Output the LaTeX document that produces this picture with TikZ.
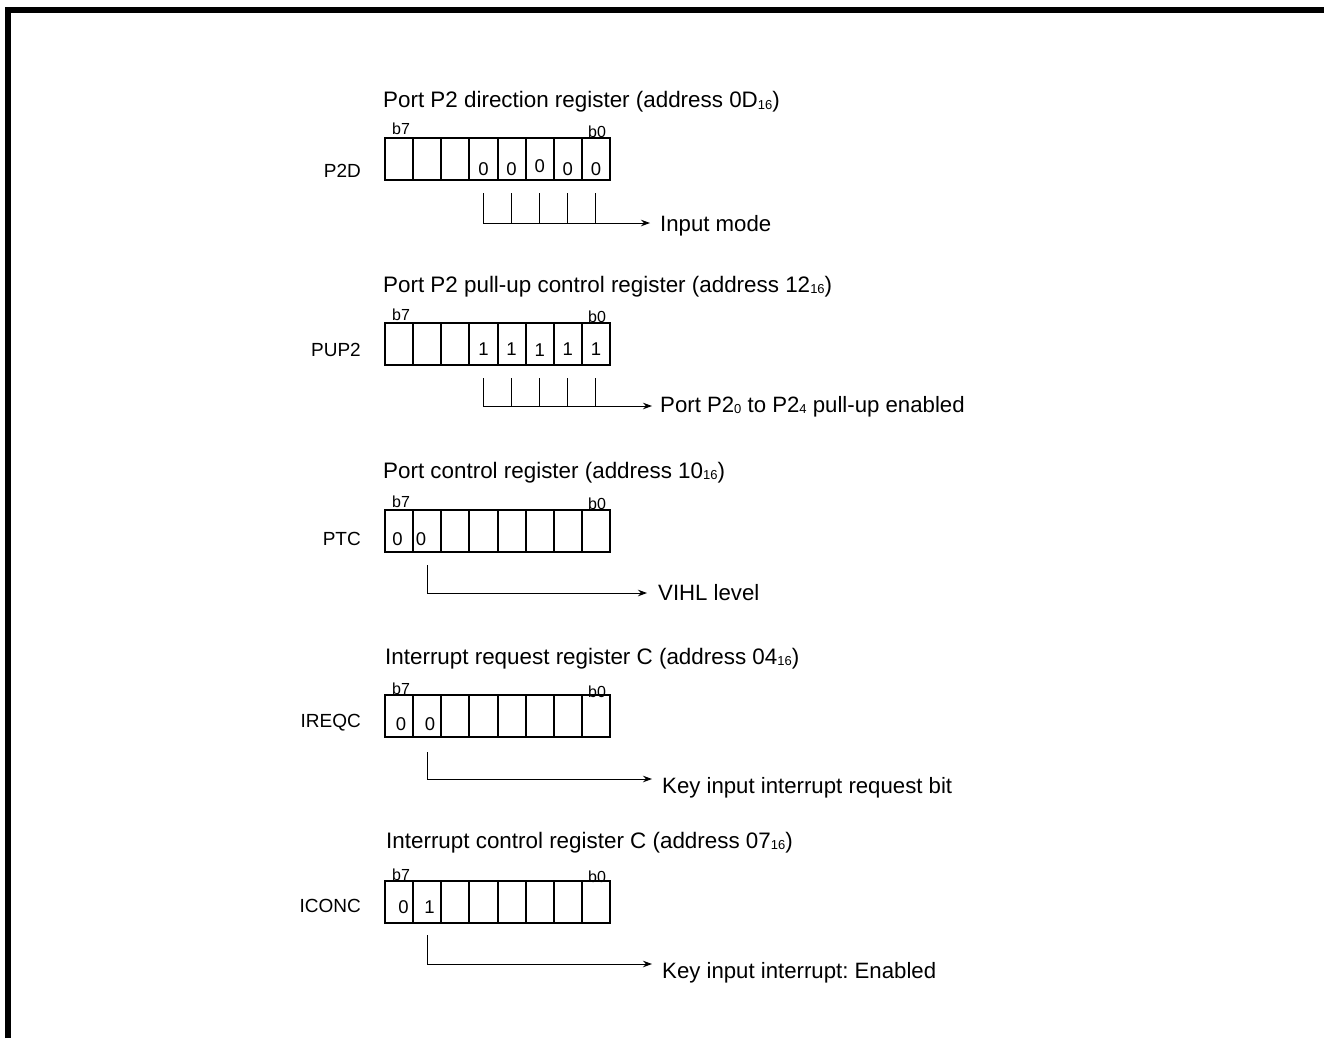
\documentclass[tikz,border=0pt]{standalone}
\usepackage{fontspec}
\setmainfont{Liberation Sans}
\usetikzlibrary{arrows.meta}
\frenchspacing
\newcommand{\sbs}[1]{\raisebox{-1.5pt}{\fontsize{13}{13}\selectfont #1}}
\begin{document}
\begin{tikzpicture}[x=1pt,y=-1pt,
 cellbox/.style={draw,line width=2pt,minimum width=28.125pt,minimum height=42pt,inner sep=0pt,outer sep=0pt},
 title/.style={anchor=base west,inner sep=0pt,font=\fontsize{22.4}{26}\selectfont},
 regname/.style={anchor=base east,inner sep=0pt,font=\fontsize{19}{22}\selectfont},
 bitlab/.style={anchor=base west,inner sep=0pt,font=\fontsize{16}{18}\selectfont},
 digit/.style={anchor=base,inner sep=0pt,font=\fontsize{18.5}{22}\selectfont},
 desc/.style={anchor=base west,inner sep=0pt,font=\fontsize{22.2}{26}\selectfont},
 tick/.style={line width=0.9pt},
 lead/.style={line width=0.9pt,-{Stealth[length=9pt,width=6.5pt]}}
]
\useasboundingbox (0,0) rectangle (1324,1038);
\draw[line width=6pt] (8,1038) -- (8,9.7) -- (1324,9.7);

% ---------- Register 1: P2D ----------
\node[title] (t1) at (383,108) {Port P2 direction register (address 0D\sbs{16})};
\node[regname] (n1) at (361,177) {P2D};
\foreach \i in {1,...,8} \node[cellbox] (a\i) at ({385+28.125*(\i-0.5)},159) {};
\node[bitlab] (a7l) at (392,135) {b7};
\node[bitlab] (a0l) at (588,137) {b0};
\foreach \i in {4,5,7,8} \node[digit] (ad\i) at ({385+28.125*(\i-0.5)},175) {0};
\node[digit] (ad6) at ({385+28.125*5.5},172) {0};
\foreach \i in {4,...,8} {
  \coordinate (au\i) at ({385+28.125*(\i-0.5)},193);
  \coordinate (ab\i) at ({385+28.125*(\i-0.5)},223);
  \draw[tick] (au\i) -- (ab\i);
}
\coordinate (ae) at (650,223);
\draw[lead] (ab4) -- (ae);
\node[desc] (d1) at (660,231) {Input mode};

% ---------- Register 2: PUP2 ----------
\node[title] (t2) at (383,292) {Port P2 pull-up control register (address 12\sbs{16})};
\node[regname] (n2) at (361,356) {PUP2};
\foreach \i in {1,...,8} \node[cellbox] (b\i) at ({385+28.125*(\i-0.5)},344) {};
\node[bitlab] (b7l) at (392,320) {b7};
\node[bitlab] (b0l) at (588,322) {b0};
\foreach \i in {4,5,7,8} \node[digit] (bd\i) at ({385+28.125*(\i-0.5)},355) {1};
\node[digit] (bd6) at ({385+28.125*5.5},356) {1};
\foreach \i in {4,...,8} {
  \coordinate (bu\i) at ({385+28.125*(\i-0.5)},378);
  \coordinate (bb\i) at ({385+28.125*(\i-0.5)},406);
  \draw[tick] (bu\i) -- (bb\i);
}
\coordinate (be) at (652,406);
\draw[lead] (bb4) -- (be);
\node[desc] (d2) at (660,412) {Port P2\sbs{0} to P2\sbs{4} pull-up enabled};

% ---------- Register 3: PTC ----------
\node[title] (t3) at (383,478) {Port control register (address 10\sbs{16})};
\node[regname] (n3) at (361,545) {PTC};
\foreach \i in {1,...,8} \node[cellbox] (c\i) at ({385+28.125*(\i-0.5)},531) {};
\node[bitlab] (c7l) at (392,507) {b7};
\node[bitlab] (c0l) at (588,509) {b0};
\node[digit] (cd1) at (397.5,545) {0};
\node[digit] (cd2) at (421,545) {0};
\coordinate (cu) at (427,565);
\coordinate (cb) at (427,593);
\coordinate (ce) at (647,593);
\draw[tick] (cu) -- (cb);
\draw[lead] (cb) -- (ce);
\node[desc] (d3) at (658,600) {VIHL level};

% ---------- Register 4: IREQC ----------
\node[title] (t4) at (385,664) {Interrupt request register C (address 04\sbs{16})};
\node[regname] (n4) at (361,727) {IREQC};
\foreach \i in {1,...,8} \node[cellbox] (e\i) at ({385+28.125*(\i-0.5)},716) {};
\node[bitlab] (e7l) at (392,694) {b7};
\node[bitlab] (e0l) at (588,697) {b0};
\node[digit] (ed1) at (401,730) {0};
\node[digit] (ed2) at (430,730) {0};
\coordinate (eu) at (427,752);
\coordinate (eb) at (427,779);
\coordinate (ee) at (652,779);
\draw[tick] (eu) -- (eb);
\draw[lead] (eb) -- (ee);
\node[desc] (d4) at (662,793) {Key input interrupt request bit};

% ---------- Register 5: ICONC ----------
\node[title] (t5) at (386,848) {Interrupt control register C (address 07\sbs{16})};
\node[regname] (n5) at (361,912) {ICONC};
\foreach \i in {1,...,8} \node[cellbox] (f\i) at ({385+28.125*(\i-0.5)},902) {};
\node[bitlab] (f7l) at (392,880) {b7};
\node[bitlab] (f0l) at (588,882) {b0};
\node[digit] (fd1) at (403.5,913) {0};
\node[digit] (fd2) at (429.5,913) {1};
\coordinate (fu) at (427,935);
\coordinate (fb) at (427,964);
\coordinate (fe) at (652,964);
\draw[tick] (fu) -- (fb);
\draw[lead] (fb) -- (fe);
\node[desc] (d5) at (662,978) {Key input interrupt: Enabled};
\end{tikzpicture}
\end{document}
